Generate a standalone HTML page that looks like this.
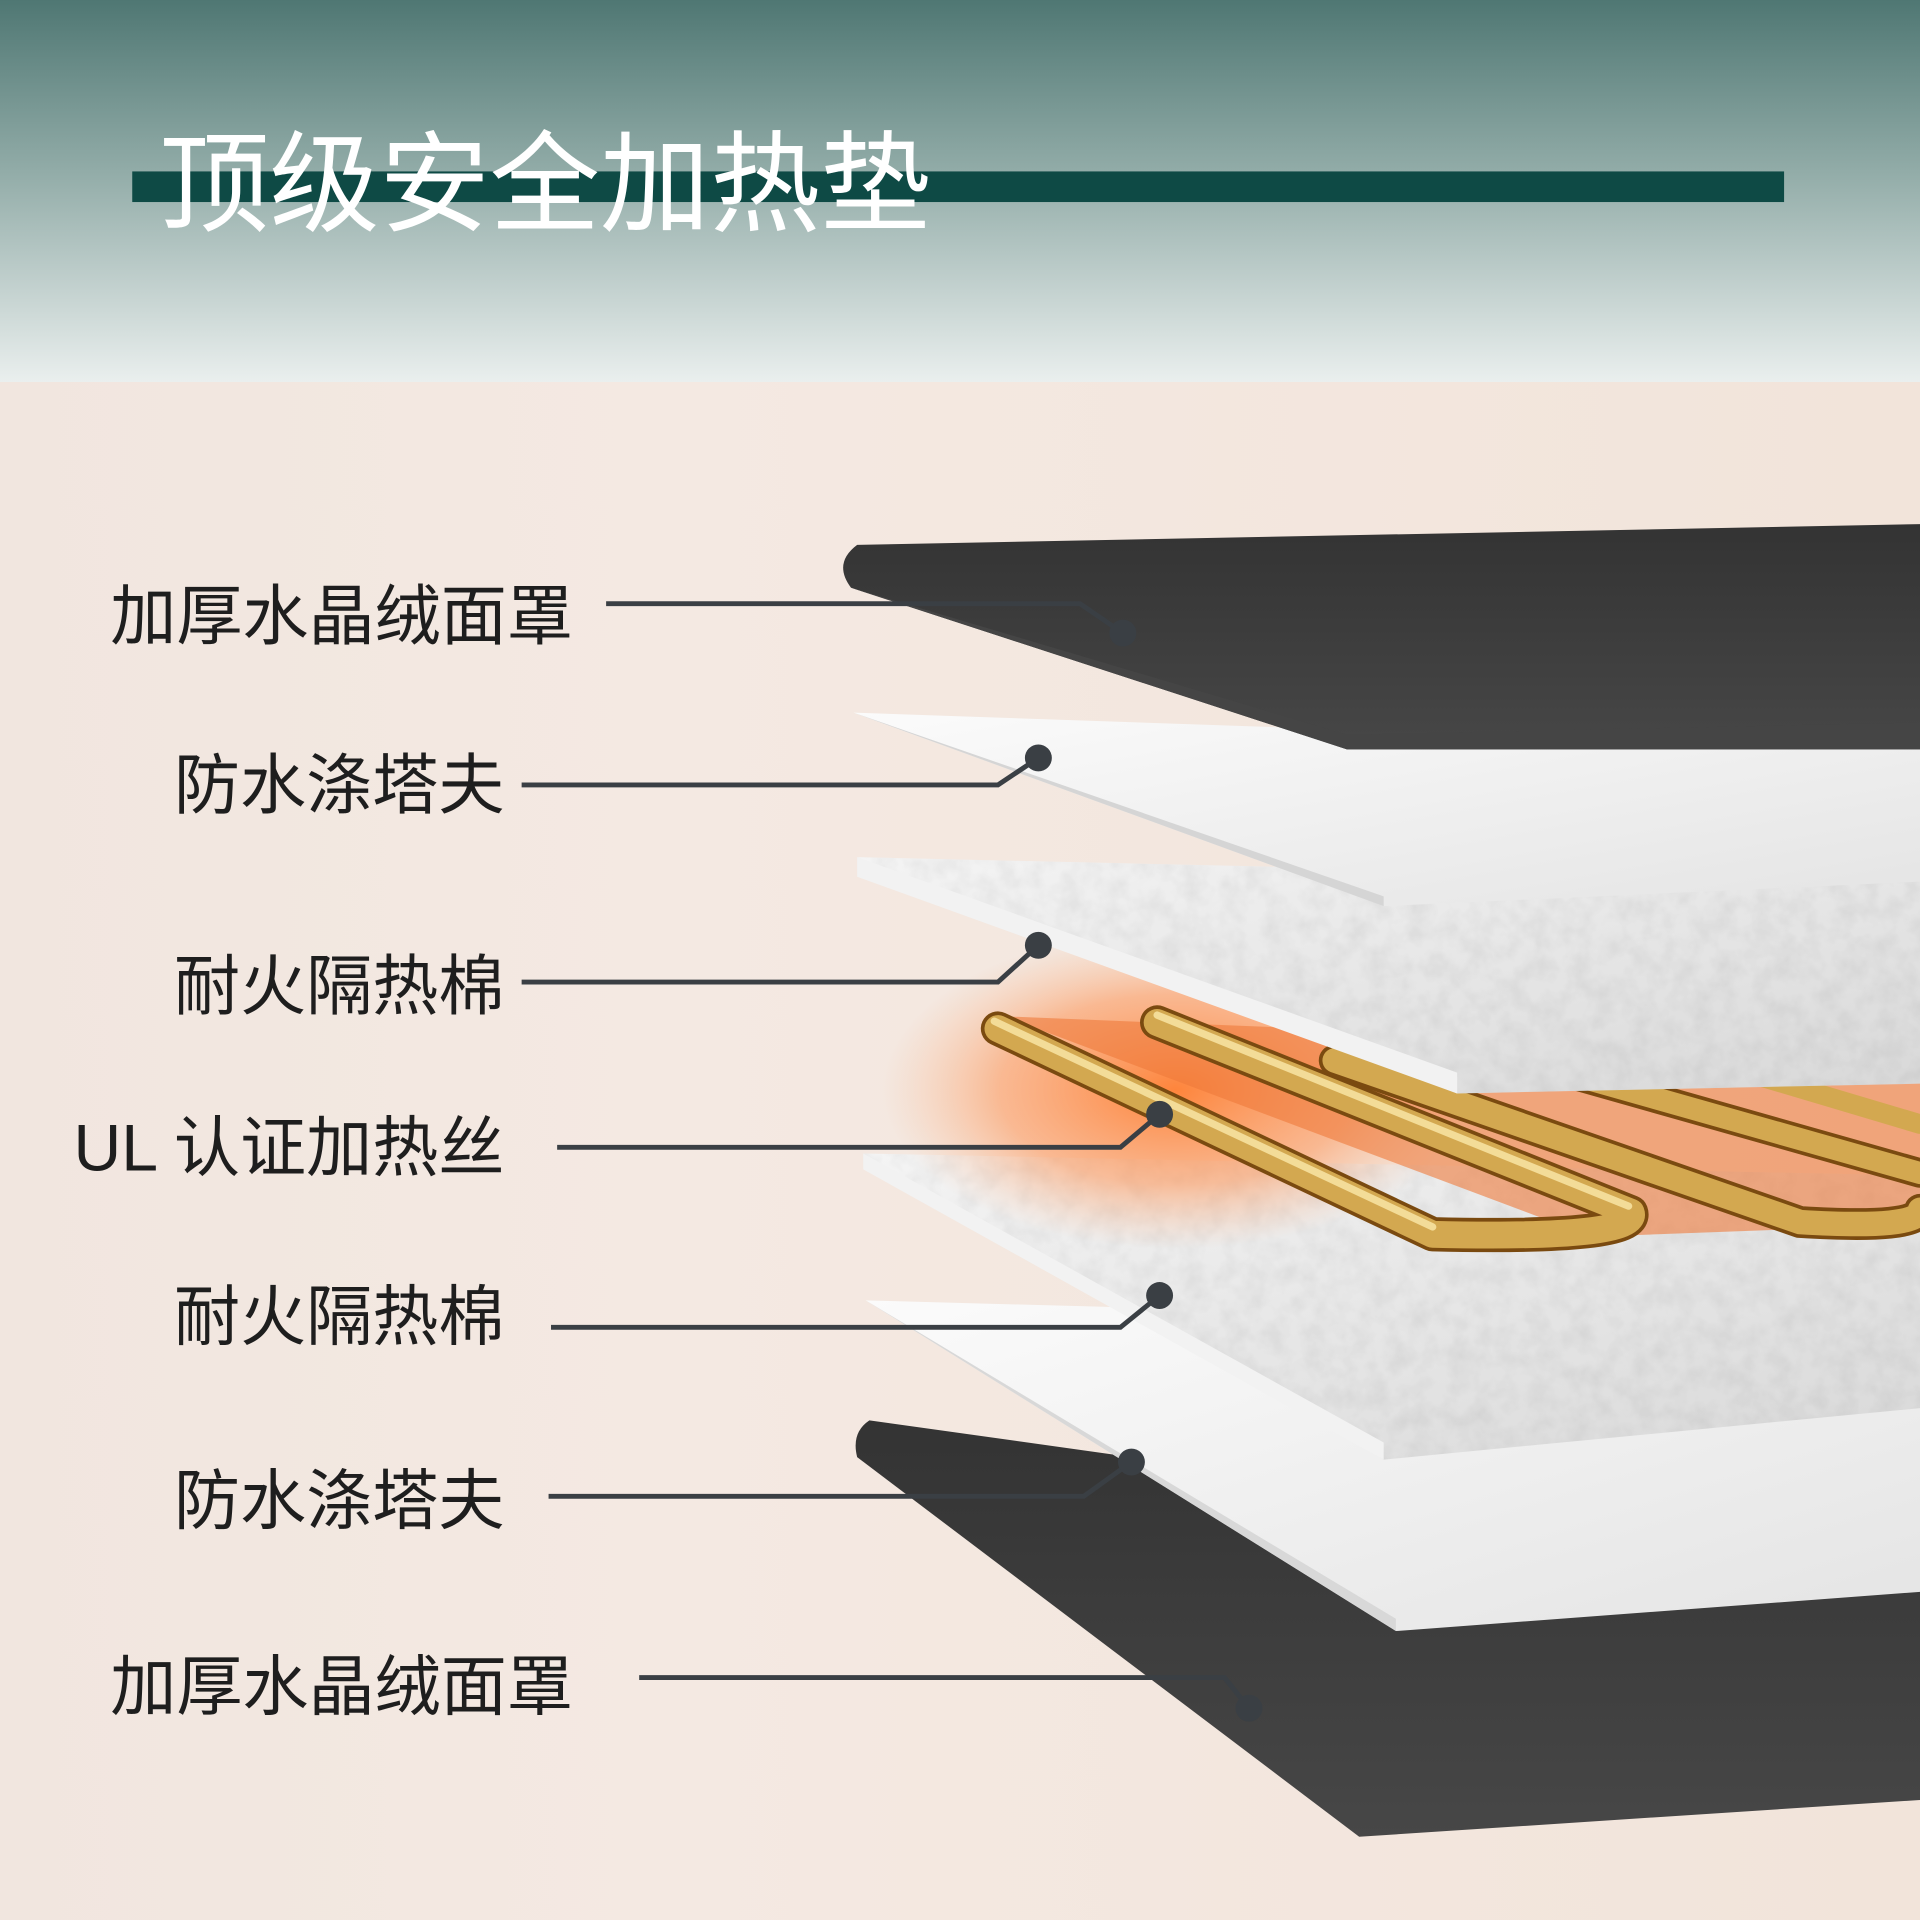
<!DOCTYPE html>
<html><head><meta charset="utf-8">
<style>
html,body{margin:0;padding:0;width:1920px;height:1920px;overflow:hidden;background:#f3e7df}
svg{display:block}
text{font-family:"Liberation Sans","Noto Sans CJK SC",sans-serif}
</style></head>
<body>
<svg width="1920" height="1920" viewBox="0 0 1568 1568" xmlns="http://www.w3.org/2000/svg">
<defs>
<linearGradient id="hdr" x1="0" y1="0" x2="0" y2="1">
<stop offset="0" stop-color="#4f7773"/><stop offset="0.45" stop-color="#92aca8"/><stop offset="1" stop-color="#eaefee"/>
</linearGradient>
<linearGradient id="body" x1="0" y1="0" x2="1" y2="0">
<stop offset="0" stop-color="#f1e6df"/><stop offset="0.35" stop-color="#f4e9e2"/><stop offset="1" stop-color="#f2e4da"/>
</linearGradient>
<linearGradient id="dark" x1="0" y1="0" x2="0" y2="1">
<stop offset="0" stop-color="#333"/><stop offset="1" stop-color="#474747"/>
</linearGradient>
<linearGradient id="white" x1="0" y1="0" x2="1" y2="1">
<stop offset="0" stop-color="#fbfbfb"/><stop offset="1" stop-color="#e4e4e4"/>
</linearGradient>
<linearGradient id="cot" x1="0" y1="0" x2="1" y2="1">
<stop offset="0" stop-color="#f4f4f4"/><stop offset="0.6" stop-color="#e4e4e4"/><stop offset="1" stop-color="#d8d8d8"/>
</linearGradient>
<radialGradient id="glow" cx="0.5" cy="0.5" r="0.5">
<stop offset="0" stop-color="#ff7a2a" stop-opacity="0.9"/><stop offset="0.6" stop-color="#ff8a45" stop-opacity="0.5"/><stop offset="1" stop-color="#ffb080" stop-opacity="0"/>
</radialGradient>
<filter id="tex" x="0" y="0" width="1" height="1">
<feTurbulence type="fractalNoise" baseFrequency="0.06" numOctaves="3" seed="3"/>
<feColorMatrix type="matrix" values="0 0 0 0 0.78  0 0 0 0 0.78  0 0 0 0 0.78  0 0 0 -0.9 0.6"/>
<feComposite in2="SourceGraphic" operator="in"/>
<feBlend in="SourceGraphic" mode="multiply"/>
</filter>
</defs>
<rect x="0" y="0" width="1568" height="312" fill="url(#hdr)"/>
<rect x="0" y="312" width="1568" height="1256" fill="url(#body)"/>
<rect x="108" y="140" width="1349" height="25" fill="#0e4a45"/>
<text x="130" y="182" font-size="90" fill="#ffffff">顶级安全加热垫</text>

<path d="M710,1160 Q695,1170 700,1190 L1110,1500 L1568,1470 L1568,1280 Z" fill="url(#dark)"/>
<polygon points="707,1062 1568,1085 1568,1300 1140,1332" fill="url(#white)"/>
<polygon points="707,1062 1140,1322 1140,1332" fill="#d8d8d8"/>
<g filter="url(#tex)">
<polygon points="705,942 1568,960 1568,1150 1130,1192" fill="url(#cot)"/>
</g>
<polygon points="705,942 1130,1178 1130,1192 705,955" fill="#f2f2f2"/>
<ellipse cx="960" cy="890" rx="240" ry="130" fill="url(#glow)"/>
<polygon points="820,830 1568,860 1568,1000 1300,1010" fill="#ee7a3a" opacity="0.6"/>
<g fill="none" stroke-linecap="round" stroke-linejoin="round">
<path d="M815,840 L1170,1008 Q1340,1012 1332,990 L945,835" stroke="#7a4a10" stroke-width="28"/>
<path d="M815,840 L1170,1008 Q1340,1012 1332,990 L945,835" stroke="#d3a850" stroke-width="22"/>
<path d="M812,834 L1170,1002 M945,829 L1330,985" stroke="#f3dc98" stroke-width="6"/>
<path d="M1090,866 L1470,998 Q1568,1004 1568,988" stroke="#7a4a10" stroke-width="26"/>
<path d="M1090,866 L1470,998 Q1568,1004 1568,988" stroke="#d3a850" stroke-width="20"/>
<path d="M1250,868 L1568,958" stroke="#7a4a10" stroke-width="24"/>
<path d="M1250,868 L1568,958" stroke="#d3a850" stroke-width="18"/>
<path d="M1400,868 L1568,918" stroke="#d3a850" stroke-width="16"/>
</g>
<g filter="url(#tex)">
<polygon points="700,700 1568,720 1568,885 1190,893" fill="url(#cot)"/>
</g>
<polygon points="700,700 1190,876 1190,893 700,716" fill="#f2f2f2"/>
<polygon points="697,582 1568,612 1568,720 1130,740" fill="url(#white)"/>
<polygon points="697,582 1130,732 1130,740" fill="#d5d5d5"/>
<path d="M700,445 Q680,460 695,480 L1100,612 L1568,612 L1568,428 Z" fill="url(#dark)"/>
<path d="M695,480 L1100,600 L1568,590 L1568,612 L1100,612 Z" fill="#454545"/>

<g font-size="54" fill="#1e1e1e">
<text x="90" y="522">加厚水晶绒面罩</text>
<text x="142" y="660">防水涤塔夫</text>
<text x="142" y="824">耐火隔热棉</text>
<text x="60" y="956">UL 认证加热丝</text>
<text x="142" y="1094">耐火隔热棉</text>
<text x="142" y="1244">防水涤塔夫</text>
<text x="90" y="1396">加厚水晶绒面罩</text>
</g>
<g stroke="#3a3f44" stroke-width="4" fill="none">
<polyline points="495,493 882,493 917,517"/>
<polyline points="426,641 815,641 848,619"/>
<polyline points="426,802 815,802 848,772"/>
<polyline points="455,937 915,937 947,910"/>
<polyline points="450,1084 915,1084 947,1058"/>
<polyline points="448,1222 885,1222 924,1194"/>
<polyline points="522,1370 1000,1370 1020,1395"/>
</g>
<g fill="#3a3f44">
<circle cx="917" cy="517" r="11"/><circle cx="848" cy="619" r="11"/><circle cx="848" cy="772" r="11"/>
<circle cx="947" cy="910" r="11"/><circle cx="947" cy="1058" r="11"/><circle cx="924" cy="1194" r="11"/><circle cx="1020" cy="1395" r="11"/>
</g>
</svg>
</body></html>
